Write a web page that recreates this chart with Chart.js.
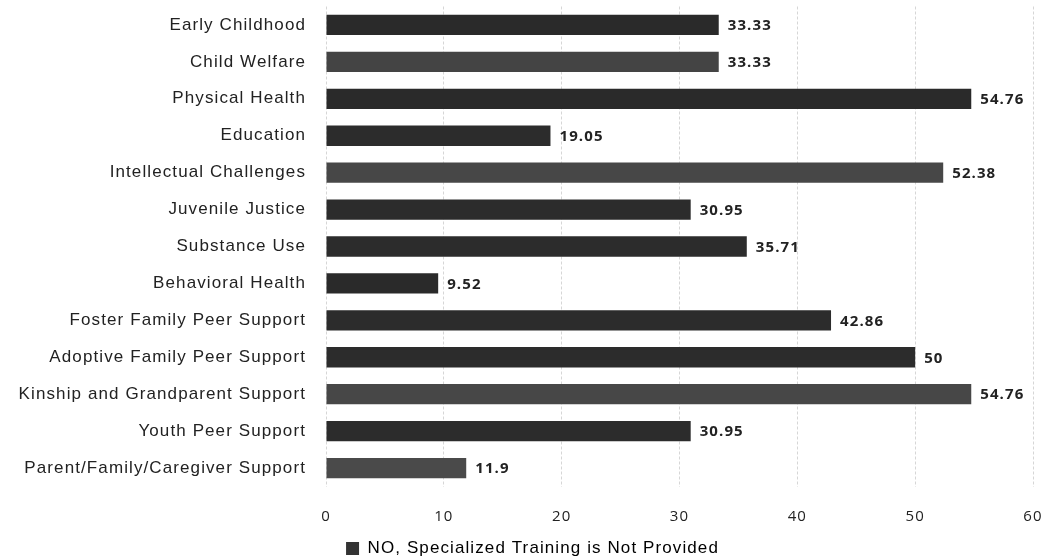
<!DOCTYPE html>
<html>
<head>
<meta charset="utf-8">
<script src="https://cdn.jsdelivr.net/npm/chart.js@4.4.1/dist/chart.umd.min.js"></script>
<style>
  html, body { margin: 0; padding: 0; background: #fff; }
  #wrap { width: 1044px; height: 558px; position: relative; }
</style>
</head>
<body>
<div id="wrap"><canvas id="c"></canvas></div>
<script>
// Support categories, top to bottom
const categories = [
  "Early Childhood",
  "Child Welfare",
  "Physical Health",
  "Education",
  "Intellectual Challenges",
  "Juvenile Justice",
  "Substance Use",
  "Behavioral Health",
  "Foster Family Peer Support",
  "Adoptive Family Peer Support",
  "Kinship and Grandparent Support",
  "Youth Peer Support",
  "Parent/Family/Caregiver Support"
];

// Percent answering NO
const noTrainingValues = [33.33, 33.33, 54.76, 19.05, 52.38, 30.95, 35.71, 9.52, 42.86, 50, 54.76, 30.95, 11.9];

const seriesLabel = "NO, Specialized Training is Not Provided";
const xTicks = [0, 10, 20, 30, 40, 50, 60];

// Slightly varied bar shades
const barShades = ["#2a2a2a", "#444444", "#2a2a2a", "#2c2c2c", "#474747", "#2c2c2c", "#2c2c2c",
                   "#2a2a2a", "#2c2c2c", "#2c2c2c", "#474747", "#2c2c2c", "#4a4a4a"];

const TEXT_SPACING = "1.1px";

// Slightly tracked-out text everywhere
const textSpacing = {
  id: "textSpacing",
  beforeLayout(chart) { chart.ctx.letterSpacing = TEXT_SPACING; },
  beforeDraw(chart) { chart.ctx.letterSpacing = TEXT_SPACING; },
  afterLayout(chart) {
    // nudge the legend a little right of centre
    const lg = chart.legend;
    if (lg) { lg.left += 16; lg.right += 16; }
  }
};

// Draws each bar's value just past its end
const valueLabels = {
  id: "valueLabels",
  afterDatasetsDraw(chart) {
    const ctx = chart.ctx;
    const meta = chart.getDatasetMeta(0);
    ctx.save();
    ctx.letterSpacing = TEXT_SPACING;
    ctx.font = "bold 15px 'Open Sans', sans-serif";
    ctx.fillStyle = "#222";
    ctx.textAlign = "left";
    ctx.textBaseline = "middle";
    meta.data.forEach((bar, i) => {
      ctx.fillText(String(chart.data.datasets[0].data[i]), bar.x + 9, bar.y + 1);
    });
    ctx.restore();
  }
};

new Chart(document.getElementById("c"), {
  type: "bar",
  data: {
    labels: categories,
    datasets: [{
      label: seriesLabel,
      data: noTrainingValues,
      backgroundColor: barShades,
      barPercentage: 0.55,
      categoryPercentage: 1.0
    }]
  },
  plugins: [textSpacing, valueLabels],
  options: {
    indexAxis: "y",
    responsive: true,
    maintainAspectRatio: false,
    animation: false,
    layout: { autoPadding: false, padding: { top: 6.5, right: 11, left: 0, bottom: -9 } },
    plugins: {
      tooltip: { enabled: false },
      legend: {
        position: "bottom",
        labels: {
          boxWidth: 13,
          boxHeight: 13,
          padding: 4,
          color: "#222",
          font: { family: "'Liberation Sans', Arial, sans-serif", size: 17 },
          generateLabels: () => [{
            text: seriesLabel,
            fillStyle: "#333",
            strokeStyle: "#333",
            lineWidth: 0,
            datasetIndex: 0
          }]
        }
      }
    },
    scales: {
      x: {
        min: 0,
        max: 60,
        afterBuildTicks: (scale) => { scale.ticks = xTicks.map(v => ({ value: v })); },
        afterFit: (scale) => {
          scale.height = 49.5;
          scale.paddingLeft = 0;
          scale.paddingRight = 0;
        },
        border: { display: false, dash: [3, 2] },
        grid: {
          color: "#d6d6d6",
          lineWidth: 1,
          drawTicks: false
        },
        ticks: {
          padding: 21,
          color: "#222",
          font: { family: "'Open Sans', sans-serif", size: 15 }
        }
      },
      y: {
        afterFit: (scale) => {
          scale.width = 326;
          scale.paddingTop = 0;
          scale.paddingBottom = 0;
        },
        border: { display: false },
        grid: { display: false, drawTicks: false },
        ticks: {
          padding: 20,
          color: "#222",
          font: { family: "'Liberation Sans', Arial, sans-serif", size: 17 }
        }
      }
    }
  }
});
</script>
</body>
</html>
